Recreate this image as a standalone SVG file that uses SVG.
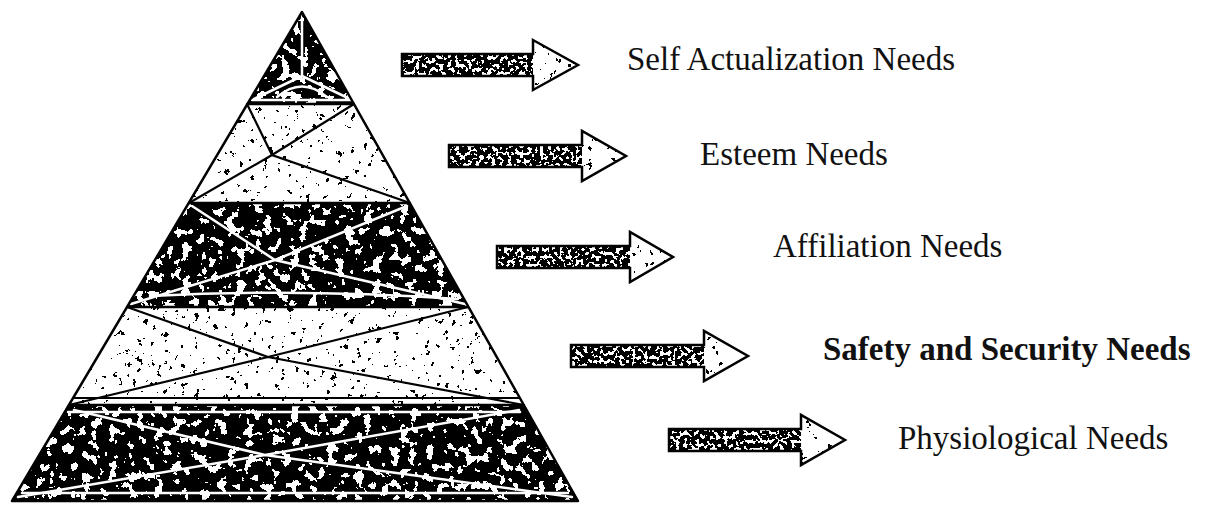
<svg xmlns="http://www.w3.org/2000/svg" width="1207" height="505" viewBox="0 0 1207 505">
<style>
  .lbl { font-family: "Liberation Serif", "Times New Roman", serif; font-size: 33px; fill: #111; }
  .bold { font-weight: bold; }
  .dark { fill: #000; filter: url(#darkTex); }
  .light { fill: #fff; filter: url(#lightTex); }
  .wl { stroke: #fff; stroke-width: 2.5; fill: none; stroke-linecap: round; }
  .bl { stroke: #000; stroke-width: 2.2; fill: none; stroke-linecap: round; }
  .edge { stroke: #000; stroke-width: 2.5; fill: none; stroke-linejoin: round; }
  .abody { fill: #000; filter: url(#bodyTex); }
  .ahead { fill: #fff; filter: url(#lightTex); }
  .aout { stroke: #000; stroke-width: 2.5; fill: none; stroke-linejoin: miter; }
</style>
<defs>
  <filter id="darkTex" x="0" y="0" width="1" height="1">
    <feTurbulence type="fractalNoise" baseFrequency="0.11" numOctaves="3" seed="3" result="n"/>
    <feColorMatrix in="n" type="matrix" values="0 0 0 0 1  0 0 0 0 1  0 0 0 0 1  1 0 0 0 0" result="w"/>
    <feComponentTransfer in="w" result="t"><feFuncA type="discrete" tableValues="0 0 0 0 0 0 0 0 0 0 0 0 1 1 1 1 1 1 1 1"/></feComponentTransfer>
    <feComposite in="t" in2="SourceAlpha" operator="in" result="m"/>
    <feMerge><feMergeNode in="SourceGraphic"/><feMergeNode in="m"/></feMerge>
  </filter>
  <filter id="lightTex" x="0" y="0" width="1" height="1">
    <feTurbulence type="fractalNoise" baseFrequency="0.16" numOctaves="3" seed="9" result="n"/>
    <feColorMatrix in="n" type="matrix" values="0 0 0 0 0  0 0 0 0 0  0 0 0 0 0  1 0 0 0 0" result="w"/>
    <feComponentTransfer in="w" result="t"><feFuncA type="discrete" tableValues="0 0 0 0 0 0 0 0 0 0 0 0 0 0 1 1 1 1 1 1"/></feComponentTransfer>
    <feComposite in="t" in2="SourceAlpha" operator="in" result="m"/>
    <feMerge><feMergeNode in="SourceGraphic"/><feMergeNode in="m"/></feMerge>
  </filter>
  <filter id="bodyTex" x="0" y="0" width="1" height="1">
    <feTurbulence type="fractalNoise" baseFrequency="0.25" numOctaves="2" seed="5" result="n"/>
    <feColorMatrix in="n" type="matrix" values="0 0 0 0 1  0 0 0 0 1  0 0 0 0 1  1 0 0 0 0" result="w"/>
    <feComponentTransfer in="w" result="t"><feFuncA type="discrete" tableValues="0 0 0 0 0 0 0 0 0 0 0 1 1 1 1 1 1 1 1 1"/></feComponentTransfer>
    <feComposite in="t" in2="SourceAlpha" operator="in" result="m"/>
    <feMerge><feMergeNode in="SourceGraphic"/><feMergeNode in="m"/></feMerge>
  </filter>
</defs>
<rect width="1207" height="505" fill="#fff"/>

<g id="pyramid">
  <g id="level-self-actualization">
    <polygon class="dark" points="302,12 354,104 247,104"/>
    <path class="wl" d="M302,18 L302,76 M302,76 L254,99 M302,76 L350,99 M252,100 L352,100"/>
    <path class="wl" d="M277,97 Q302,76 327,97"/>
  </g>
  <g id="level-esteem">
    <polygon class="light" points="247,104 354,104 410,203 189,203"/>
    <path class="bl" d="M247,104 L272,155 L410,203 M354,104 L272,155 L189,203"/>
  </g>
  <g id="level-affiliation">
    <polygon class="dark" points="189,203 410,203 468,307 127,307"/>
    <path class="wl" d="M192,206 L275,260 L465,304 M407,206 L275,260 L131,304"/>
    <path class="wl" d="M150,296 Q300,288 458,299"/>
  </g>
  <g id="level-safety">
    <polygon class="light" points="127,307 468,307 524,405 69,405"/>
    <path class="bl" d="M127,307 L268,357 L524,405 M468,307 L268,357 L69,405"/>
    <path class="bl" d="M74,398 L519,398"/>
  </g>
  <g id="level-physiological">
    <polygon class="dark" points="69,405 524,405 578,501 12,501"/>
    <path class="wl" d="M74,410 L265,455 L572,497 M519,410 L265,455 L18,497"/>
    <path class="wl" d="M22,493 L568,493 M68,412 L520,412"/>
  </g>
  <polygon class="edge" points="302,12 578,501 12,501"/>
  <path class="edge" d="M247,104 L354,104 M189,203 L410,203 M127,307 L468,307 M69,405 L524,405"/>
</g>

<g id="connectors">
  <g id="arrow-1">
    <rect class="abody" x="402" y="54" width="131" height="22"/>
    <polygon class="ahead" points="533,40 578,65 533,90"/>
    <path class="aout" d="M402,54 L533,54 L533,40 L578,65 L533,90 L533,76 L402,76 Z"/>
  </g>
  <g id="arrow-2">
    <rect class="abody" x="449" y="145" width="133" height="22"/>
    <polygon class="ahead" points="582,131 626,156 582,181"/>
    <path class="aout" d="M449,145 L582,145 L582,131 L626,156 L582,181 L582,167 L449,167 Z"/>
  </g>
  <g id="arrow-3">
    <rect class="abody" x="497" y="246" width="133" height="22"/>
    <polygon class="ahead" points="630,232 673,257 630,282"/>
    <path class="aout" d="M497,246 L630,246 L630,232 L673,257 L630,282 L630,268 L497,268 Z"/>
  </g>
  <g id="arrow-4">
    <rect class="abody" x="571" y="345" width="133" height="22"/>
    <polygon class="ahead" points="704,331 748,356 704,381"/>
    <path class="aout" d="M571,345 L704,345 L704,331 L748,356 L704,381 L704,367 L571,367 Z"/>
  </g>
  <g id="arrow-5">
    <rect class="abody" x="669" y="429" width="132" height="22"/>
    <polygon class="ahead" points="801,415 845,440 801,465"/>
    <path class="aout" d="M669,429 L801,429 L801,415 L845,440 L801,465 L801,451 L669,451 Z"/>
  </g>
</g>

<g id="labels">
  <g id="label-self-actualization"><text class="lbl" x="627" y="70">Self Actualization Needs</text></g>
  <g id="label-esteem"><text class="lbl" x="700" y="165">Esteem Needs</text></g>
  <g id="label-affiliation"><text class="lbl" x="773" y="257">Affiliation Needs</text></g>
  <g id="label-safety"><text class="lbl bold" x="823" y="360">Safety and Security Needs</text></g>
  <g id="label-physiological"><text class="lbl" x="898" y="449">Physiological Needs</text></g>
</g>
</svg>
